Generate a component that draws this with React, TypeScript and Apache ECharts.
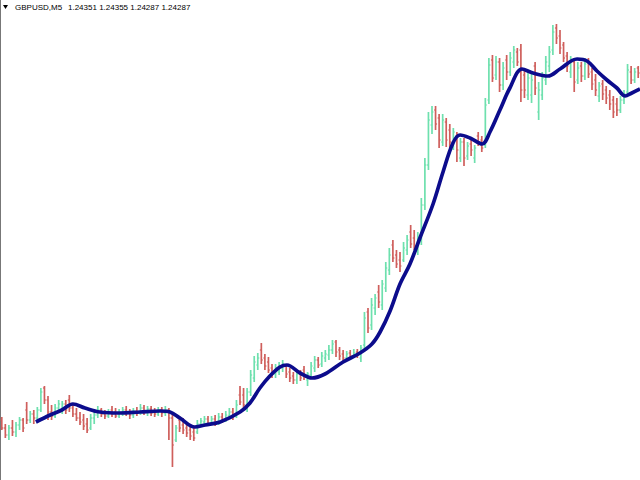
import React, { useEffect, useRef } from "react";
import * as echarts from "echarts";

// OHLC bars of GBPUSD M5
const opens = [
  1.23940, 1.23932, 1.23925, 1.23932, 1.23928, 1.23935, 1.23940, 1.23950, 1.23940, 1.23946,
  1.23942, 1.23950, 1.23972, 1.23960, 1.23948, 1.23944, 1.23952, 1.23950, 1.23956, 1.23960,
  1.23952, 1.23946, 1.23942, 1.23940, 1.23936, 1.23932, 1.23942, 1.23945, 1.23950, 1.23946,
  1.23944, 1.23950, 1.23948, 1.23944, 1.23946, 1.23950, 1.23948, 1.23945, 1.23949, 1.23947,
  1.23952, 1.23948, 1.23951, 1.23948, 1.23946, 1.23950, 1.23947, 1.23950, 1.23942, 1.23920,
  1.23940, 1.23935, 1.23932, 1.23930, 1.23928, 1.23928, 1.23936, 1.23938, 1.23941, 1.23937,
  1.23941, 1.23938, 1.23943, 1.23940, 1.23944, 1.23948, 1.23944, 1.23965, 1.23965, 1.23955,
  1.23968, 1.23982, 1.23995, 1.24010, 1.24002, 1.23998, 1.23992, 1.23986, 1.23988, 1.23992,
  1.23994, 1.23988, 1.23984, 1.23980, 1.23986, 1.23990, 1.23980, 1.23985, 1.23992, 1.24000,
  1.23996, 1.24002, 1.24005, 1.24010, 1.24018, 1.24010, 1.24006, 1.24002, 1.24007, 1.24004,
  1.24008, 1.24002, 1.24015, 1.24048, 1.24035, 1.24052, 1.24068, 1.24055, 1.24072, 1.24090,
  1.24115, 1.24105, 1.24100, 1.24100, 1.24110, 1.24128, 1.24122, 1.24110, 1.24120, 1.24155,
  1.24195, 1.24235, 1.24250, 1.24242, 1.24218, 1.24238, 1.24230, 1.24215, 1.24224, 1.24202,
  1.24218, 1.24204, 1.24216, 1.24202, 1.24224, 1.24220, 1.24215, 1.24260, 1.24300, 1.24285,
  1.24298, 1.24275, 1.24300, 1.24288, 1.24298, 1.24308, 1.24310, 1.24285, 1.24265, 1.24265,
  1.24294, 1.24248, 1.24265, 1.24280, 1.24294, 1.24310, 1.24332, 1.24324, 1.24315, 1.24304,
  1.24288, 1.24298, 1.24280, 1.24294, 1.24284, 1.24298, 1.24288, 1.24280, 1.24264, 1.24276,
  1.24270, 1.24265, 1.24260, 1.24256, 1.24250, 1.24260, 1.24268, 1.24288, 1.24280, 1.24292,
];

const highs = [
  1.23943, 1.23936, 1.23935, 1.23940, 1.23938, 1.23943, 1.23942, 1.23958, 1.23949, 1.23950,
  1.23953, 1.23972, 1.23974, 1.23964, 1.23955, 1.23956, 1.23960, 1.23959, 1.23960, 1.23965,
  1.23955, 1.23952, 1.23948, 1.23946, 1.23942, 1.23946, 1.23948, 1.23954, 1.23952, 1.23950,
  1.23951, 1.23954, 1.23952, 1.23951, 1.23953, 1.23954, 1.23951, 1.23952, 1.23953, 1.23956,
  1.23955, 1.23954, 1.23954, 1.23952, 1.23953, 1.23953, 1.23954, 1.23952, 1.23948, 1.23935,
  1.23944, 1.23942, 1.23938, 1.23936, 1.23932, 1.23940, 1.23942, 1.23944, 1.23944, 1.23944,
  1.23945, 1.23947, 1.23947, 1.23949, 1.23952, 1.23952, 1.23960, 1.23974, 1.23972, 1.23972,
  1.23990, 1.24004, 1.24007, 1.24017, 1.24006, 1.24003, 1.23996, 1.23996, 1.23998, 1.24000,
  1.23996, 1.23992, 1.23988, 1.23990, 1.23990, 1.23994, 1.23988, 1.23998, 1.24004, 1.24003,
  1.24008, 1.24010, 1.24015, 1.24020, 1.24020, 1.24013, 1.24010, 1.24009, 1.24010, 1.24011,
  1.24011, 1.24015, 1.24048, 1.24052, 1.24062, 1.24066, 1.24075, 1.24080, 1.24098, 1.24112,
  1.24120, 1.24110, 1.24108, 1.24118, 1.24125, 1.24135, 1.24130, 1.24128, 1.24162, 1.24202,
  1.24248, 1.24254, 1.24254, 1.24246, 1.24246, 1.24242, 1.24236, 1.24232, 1.24228, 1.24222,
  1.24222, 1.24218, 1.24220, 1.24215, 1.24228, 1.24224, 1.24262, 1.24302, 1.24305, 1.24304,
  1.24302, 1.24298, 1.24305, 1.24308, 1.24314, 1.24312, 1.24316, 1.24292, 1.24288, 1.24286,
  1.24298, 1.24278, 1.24288, 1.24304, 1.24314, 1.24335, 1.24336, 1.24330, 1.24318, 1.24308,
  1.24304, 1.24302, 1.24298, 1.24298, 1.24302, 1.24302, 1.24292, 1.24286, 1.24278, 1.24280,
  1.24274, 1.24270, 1.24264, 1.24262, 1.24264, 1.24270, 1.24296, 1.24294, 1.24292, 1.24294,
];

const lows = [
  1.23930, 1.23922, 1.23920, 1.23924, 1.23923, 1.23930, 1.23928, 1.23936, 1.23937, 1.23936,
  1.23938, 1.23948, 1.23956, 1.23940, 1.23940, 1.23942, 1.23948, 1.23946, 1.23946, 1.23948,
  1.23943, 1.23939, 1.23935, 1.23930, 1.23927, 1.23930, 1.23936, 1.23942, 1.23943, 1.23941,
  1.23942, 1.23943, 1.23942, 1.23942, 1.23944, 1.23944, 1.23941, 1.23942, 1.23944, 1.23945,
  1.23945, 1.23944, 1.23944, 1.23943, 1.23944, 1.23943, 1.23944, 1.23920, 1.23893, 1.23918,
  1.23928, 1.23926, 1.23923, 1.23920, 1.23919, 1.23926, 1.23933, 1.23934, 1.23934, 1.23935,
  1.23934, 1.23935, 1.23937, 1.23938, 1.23941, 1.23940, 1.23942, 1.23955, 1.23950, 1.23948,
  1.23964, 1.23978, 1.23990, 1.23996, 1.23990, 1.23987, 1.23982, 1.23982, 1.23985, 1.23988,
  1.23982, 1.23978, 1.23976, 1.23976, 1.23979, 1.23980, 1.23974, 1.23982, 1.23988, 1.23992,
  1.23993, 1.23998, 1.24000, 1.24006, 1.24003, 1.24000, 1.23999, 1.24000, 1.24001, 1.24002,
  1.24002, 1.23998, 1.24010, 1.24027, 1.24030, 1.24045, 1.24052, 1.24050, 1.24068, 1.24085,
  1.24098, 1.24092, 1.24088, 1.24098, 1.24105, 1.24112, 1.24110, 1.24105, 1.24115, 1.24150,
  1.24190, 1.24226, 1.24230, 1.24212, 1.24214, 1.24213, 1.24212, 1.24210, 1.24198, 1.24198,
  1.24194, 1.24200, 1.24204, 1.24197, 1.24214, 1.24208, 1.24212, 1.24256, 1.24278, 1.24280,
  1.24268, 1.24270, 1.24280, 1.24284, 1.24292, 1.24294, 1.24258, 1.24262, 1.24260, 1.24257,
  1.24265, 1.24240, 1.24260, 1.24275, 1.24288, 1.24305, 1.24316, 1.24306, 1.24298, 1.24288,
  1.24282, 1.24268, 1.24276, 1.24278, 1.24280, 1.24282, 1.24270, 1.24264, 1.24258, 1.24260,
  1.24256, 1.24250, 1.24242, 1.24244, 1.24247, 1.24256, 1.24265, 1.24276, 1.24277, 1.24282,
];

const closes = [
  1.23932, 1.23925, 1.23932, 1.23928, 1.23935, 1.23940, 1.23932, 1.23940, 1.23946, 1.23942,
  1.23950, 1.23968, 1.23960, 1.23948, 1.23944, 1.23952, 1.23956, 1.23956, 1.23950, 1.23952,
  1.23946, 1.23942, 1.23938, 1.23934, 1.23930, 1.23942, 1.23945, 1.23950, 1.23946, 1.23944,
  1.23948, 1.23946, 1.23944, 1.23948, 1.23950, 1.23947, 1.23945, 1.23949, 1.23947, 1.23952,
  1.23948, 1.23951, 1.23947, 1.23946, 1.23950, 1.23947, 1.23950, 1.23942, 1.23915, 1.23932,
  1.23932, 1.23930, 1.23927, 1.23924, 1.23922, 1.23936, 1.23939, 1.23941, 1.23937, 1.23941,
  1.23937, 1.23943, 1.23940, 1.23945, 1.23948, 1.23944, 1.23955, 1.23958, 1.23955, 1.23968,
  1.23985, 1.23998, 1.24002, 1.24000, 1.23994, 1.23990, 1.23986, 1.23992, 1.23994, 1.23996,
  1.23986, 1.23982, 1.23980, 1.23986, 1.23982, 1.23983, 1.23986, 1.23994, 1.24000, 1.23995,
  1.24004, 1.24006, 1.24010, 1.24016, 1.24008, 1.24004, 1.24002, 1.24006, 1.24004, 1.24007,
  1.24005, 1.24012, 1.24042, 1.24032, 1.24055, 1.24062, 1.24058, 1.24076, 1.24092, 1.24105,
  1.24102, 1.24096, 1.24094, 1.24112, 1.24120, 1.24116, 1.24114, 1.24122, 1.24155, 1.24195,
  1.24240, 1.24248, 1.24236, 1.24220, 1.24240, 1.24220, 1.24218, 1.24228, 1.24210, 1.24218,
  1.24202, 1.24214, 1.24210, 1.24212, 1.24218, 1.24212, 1.24255, 1.24295, 1.24282, 1.24298,
  1.24275, 1.24292, 1.24288, 1.24302, 1.24310, 1.24298, 1.24270, 1.24270, 1.24282, 1.24280,
  1.24272, 1.24270, 1.24282, 1.24298, 1.24308, 1.24328, 1.24322, 1.24312, 1.24302, 1.24294,
  1.24300, 1.24278, 1.24292, 1.24284, 1.24296, 1.24286, 1.24276, 1.24270, 1.24274, 1.24266,
  1.24262, 1.24256, 1.24248, 1.24250, 1.24260, 1.24266, 1.24290, 1.24280, 1.24288, 1.24287,
];

// Moving average line: bar position and value
const maX = [
  10.1, 14.1, 17.4, 20.5, 23.9, 28.1, 33.75, 39.4, 45, 47.8,
  50.6, 54.8, 57.7, 61.9, 67.5, 70.3, 73.1, 75.9, 78.75, 80.7,
  84.4, 87.75, 91.4, 96.5, 101.25, 104.6, 106.9, 109.7, 112.5, 115.3,
  118.1, 121.8, 124.6, 127.4, 129.4, 132.2, 135.6, 137.8, 140.6, 143.4,
  146.8, 149.9, 154.1, 157.5, 162.3, 165.1, 167.9, 170.7, 173.5, 175.8,
  177.7, 180,
];
const maY = [
  1.23938, 1.23945, 1.23950, 1.23956, 1.23952, 1.23948, 1.23947, 1.23948, 1.23949, 1.23948,
  1.23942, 1.23933, 1.23935, 1.23938, 1.23948, 1.23957, 1.23972, 1.23984, 1.23993, 1.23995,
  1.23987, 1.23982, 1.23986, 1.23998, 1.24007, 1.24016, 1.24028, 1.24049, 1.24076, 1.24096,
  1.24122, 1.24156, 1.24188, 1.24217, 1.24225, 1.24222, 1.24216, 1.24228, 1.24250, 1.24272,
  1.24291, 1.24287, 1.24284, 1.24291, 1.24301, 1.24299, 1.24289, 1.24280, 1.24272, 1.24264,
  1.24267, 1.24271,
];

const symbolName = "GBPUSD,M5";
const headerQuote = ["1.24351", "1.24355", "1.24287", "1.24287"];

const UP = "#6ee0ae";
const DOWN = "#cf5f5c";
const MA_COLOR = "#0c0c8c";

export default function App() {
  const ref = useRef<HTMLDivElement>(null);

  useEffect(() => {
    document.body.style.margin = "0";
    if (!ref.current) return;
    const chart = echarts.init(ref.current, undefined, { renderer: "svg" });
    const N = opens.length;
    const barData = opens.map((o, i) => [i + 0.5, o, highs[i], lows[i], closes[i]]);
    const maData = maX.map((x, i) => [x, maY[i]]);

    const renderItem = (params: any, api: any) => {
      const x = api.value(0);
      const o = api.value(1);
      const h = api.value(2);
      const l = api.value(3);
      const c = api.value(4);
      const pH = api.coord([x, h]);
      const pL = api.coord([x, l]);
      const pO = api.coord([x, o]);
      const pC = api.coord([x, c]);
      const color = c >= o ? UP : DOWN;
      return {
        type: "group",
        children: [
          {
            type: "line",
            shape: { x1: pH[0], y1: pH[1], x2: pL[0], y2: pL[1] },
            style: { stroke: color, lineWidth: 1.7 },
          },
          {
            type: "line",
            shape: { x1: pO[0] - 1.5, y1: pO[1], x2: pO[0], y2: pO[1] },
            style: { stroke: color, lineWidth: 1.2 },
          },
          {
            type: "line",
            shape: { x1: pC[0], y1: pC[1], x2: pC[0] + 1.5, y2: pC[1] },
            style: { stroke: color, lineWidth: 1.2 },
          },
        ],
      };
    };

    chart.setOption({
      animation: false,
      backgroundColor: "#ffffff",
      grid: { left: 0, right: 0, top: 0, bottom: 0 },
      xAxis: { type: "value", min: 0, max: N, show: false },
      yAxis: { type: "value", min: 1.2388, max: 1.2436, show: false },
      series: [
        {
          type: "custom",
          renderItem,
          data: barData,
          encode: { x: 0, y: [1, 2, 3, 4] },
          z: 2,
        },
        {
          type: "line",
          data: maData,
          smooth: 0.35,
          symbol: "none",
          showSymbol: false,
          lineStyle: { color: MA_COLOR, width: 3.7 },
          z: 3,
        },
      ],
      graphic: [
        {
          type: "line",
          shape: { x1: 0.5, y1: 0, x2: 0.5, y2: 480 },
          style: { stroke: "#777777", lineWidth: 1 },
        },
        {
          type: "polygon",
          shape: { points: [[3, 5], [8, 5], [5.5, 9]] },
          style: { fill: "#000000" },
        },
        {
          type: "text",
          x: 15,
          y: 7,
          style: {
            text: symbolName,
            font: "8px 'Liberation Sans', Arial, sans-serif",
            fill: "#000000",
            verticalAlign: "middle",
          },
        },
        {
          type: "text",
          x: 68,
          y: 7,
          style: {
            text: headerQuote.join(" "),
            font: "8px 'Liberation Sans', Arial, sans-serif",
            fill: "#000000",
            verticalAlign: "middle",
          },
        },
      ],
    });

    return () => chart.dispose();
  }, []);

  return <div ref={ref} style={{ width: 640, height: 480 }} />;
}
